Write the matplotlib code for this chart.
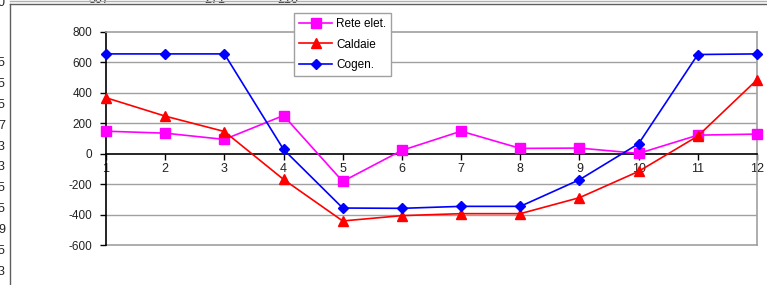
import matplotlib
matplotlib.use("Agg")
import matplotlib.pyplot as plt
from matplotlib.lines import Line2D

plt.rcParams['font.family'] = ['Liberation Sans', 'DejaVu Sans']

months = list(range(1, 13))
rete = [148, 135, 94, 251, -182, 22, 148, 35, 37, 2, 122, 129]
caldaie = [368, 247, 146, -169, -442, -407, -394, -394, -289, -116, 116, 486]
cogen = [656, 656, 656, 28, -357, -359, -346, -346, -171, 66, 652, 656]
series_names = ["Rete elet.", "Caldaie", "Cogen."]
y_ticks = [-600, -400, -200, 0, 200, 400, 600, 800]
left_digits = ["5", "5", "5", "7", "3", "3", "5", "5", "9", "5", "3"]
top_numbers = ["307", "271", "210"]

W, H = 767, 285
fig = plt.figure(figsize=(W / 100, H / 100), dpi=100)

def fx(px):
    return px / W

def fy(py):
    return 1 - py / H

# outer chart frame lines
fig.add_artist(Line2D([fx(10), fx(10)], [fy(4), fy(285)], color="#606060", lw=1.0, zorder=20))
fig.add_artist(Line2D([fx(10), 1], [fy(4), fy(4)], color="#606060", lw=1.0, zorder=20))
fig.add_artist(Line2D([fx(10), 1], [fy(0.7), fy(0.7)], color="#b0b0b0", lw=1.0, zorder=20))

# cells behind the chart (partly visible)
for i, d in enumerate(left_digits):
    fig.text(fx(-2), fy(63 + i * 20.9), d, ha="left", va="center", fontsize=9, color="#222222")
fig.text(fx(-2), fy(3), "0", ha="left", va="center", fontsize=9, color="#222222")
for x, t in zip([99, 215, 288], top_numbers):
    fig.text(fx(x), fy(3.2), t, ha="center", va="baseline", fontsize=9, color="#222222")

ax = fig.add_axes([fx(106), fy(245), fx(757) - fx(106), fy(32) - fy(245)])
ax.set_xlim(1, 12)
ax.set_ylim(-600, 800)

for yv in y_ticks:
    if yv not in (0, -600, 800):
        ax.axhline(yv, color="#a0a0a0", lw=1.0, zorder=1)
ax.axhline(-600, color="#a0a0a0", lw=1.2, zorder=1, clip_on=False)

ax.plot(months, rete, color="#ff00ff", marker="s", markersize=7, lw=1.2,
        clip_on=False, zorder=3, label=series_names[0])
ax.plot(months, caldaie, color="#ff0000", marker="^", markersize=7, lw=1.2,
        clip_on=False, zorder=3, label=series_names[1])
ax.plot(months, cogen, color="#0000ff", marker="D", markersize=5, lw=1.2,
        clip_on=False, zorder=4, label=series_names[2])

for s in ["top", "right"]:
    ax.spines[s].set_color("#a0a0a0")
    ax.spines[s].set_linewidth(1.2)
ax.spines["left"].set_color("black")
ax.spines["left"].set_linewidth(1.2)
ax.spines["bottom"].set_position(("data", 0))
ax.spines["bottom"].set_color("black")
ax.spines["bottom"].set_linewidth(1.2)

ax.set_xticks(months)
ax.set_xticklabels([str(m) for m in months])
ax.set_yticks(y_ticks)
ax.set_yticklabels([str(v) for v in y_ticks])
ax.tick_params(axis="x", direction="out", length=4, width=1, pad=3,
               labelsize=9, colors="black")
ax.tick_params(axis="y", direction="out", length=4, width=1, pad=6,
               labelsize=8.5, colors="black")
for lab in ax.get_xticklabels() + ax.get_yticklabels():
    lab.set_color("#222222")

leg = ax.legend(loc="upper left", bbox_to_anchor=(fx(294), fy(13)),
                bbox_transform=fig.transFigure, fontsize=8.5, frameon=True,
                fancybox=False, edgecolor="#a0a0a0", framealpha=1,
                handlelength=2.8, handletextpad=0.3, labelspacing=0.7,
                borderpad=0.45, borderaxespad=0)
leg.get_frame().set_linewidth(1.0)
leg.set_zorder(10)

fig.savefig("out.png", dpi=100)
